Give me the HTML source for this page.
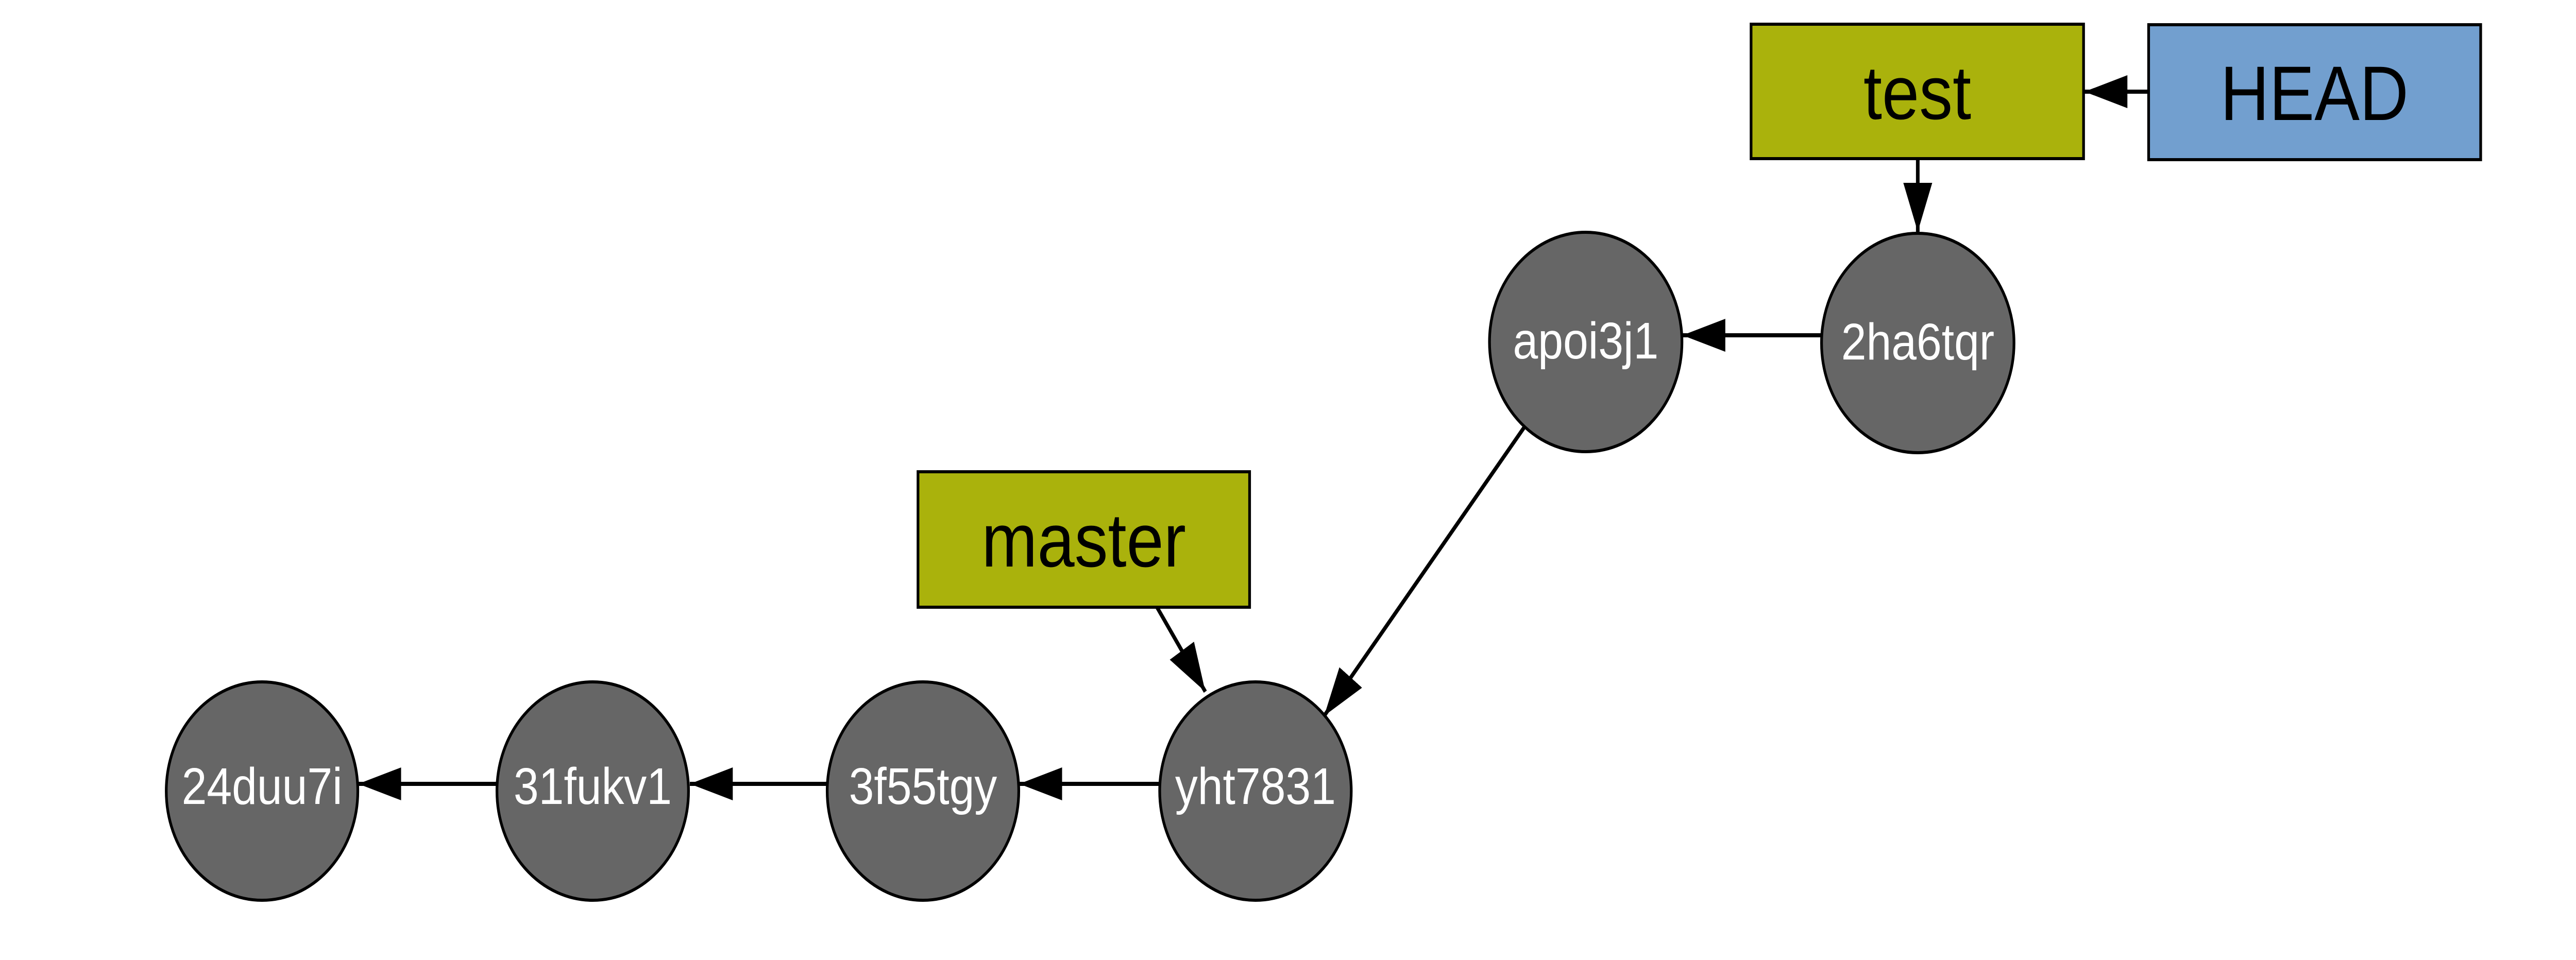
<!DOCTYPE html>
<html><head><meta charset="utf-8"><style>html,body{margin:0;padding:0;background:#fff;overflow:hidden;width:100%;height:100%}svg{display:block;width:100vw;height:100vh}</style></head>
<body>
<svg viewBox="0 0 5702 1864" preserveAspectRatio="none" xmlns="http://www.w3.org/2000/svg">
<defs>
<marker id="a" markerUnits="userSpaceOnUse" markerWidth="100" markerHeight="70" refX="95" refY="32" orient="auto">
<path d="M0,0 L95,32 L0,64 Z" fill="#000"/>
</marker>
</defs>
<g fill="none" stroke="#000" stroke-width="8">
<line x1="4756" y1="178" x2="4614" y2="178" marker-end="url(#a)"/>
<line x1="4245" y1="310" x2="4245" y2="450" marker-end="url(#a)"/>
<line x1="4032" y1="651" x2="3724" y2="651" marker-end="url(#a)"/>
<line x1="3376" y1="827" x2="2931" y2="1390" marker-end="url(#a)"/>
<line x1="2561" y1="1179" x2="2668" y2="1343" marker-end="url(#a)"/>
<line x1="2568" y1="1522" x2="2256" y2="1522" marker-end="url(#a)"/>
<line x1="1832" y1="1522" x2="1527" y2="1522" marker-end="url(#a)"/>
<line x1="1100" y1="1522" x2="793" y2="1522" marker-end="url(#a)"/>
</g>
<g stroke="#000" stroke-width="6">
<rect x="3876" y="47" width="736" height="261" fill="#aab20c"/>
<rect x="4756" y="48" width="735" height="262" fill="#729fcf"/>
<rect x="2032" y="916" width="734" height="263" fill="#aab20c"/>
<circle cx="4245" cy="666" r="213" fill="#666"/>
<circle cx="3510" cy="664" r="213" fill="#666"/>
<circle cx="2779" cy="1536" r="212" fill="#666"/>
<circle cx="2043" cy="1536" r="212" fill="#666"/>
<circle cx="1312" cy="1536" r="212" fill="#666"/>
<circle cx="580" cy="1536" r="212" fill="#666"/>
</g>
<g font-family="'Liberation Sans', sans-serif" text-anchor="middle">
<text x="4244" y="231" font-size="148">test</text>
<text x="5123" y="233" font-size="150">HEAD</text>
<text x="2399" y="1100" font-size="148">master</text>
<g fill="#fff" font-size="100">
<text x="4245" y="698">2ha6tqr</text>
<text x="3510" y="696">apoi3j1</text>
<text x="2779" y="1561">yht7831</text>
<text x="2043" y="1561">3f55tgy</text>
<text x="1312" y="1561">31fukv1</text>
<text x="580" y="1561">24duu7i</text>
</g>
</g>
</svg>
</body></html>
